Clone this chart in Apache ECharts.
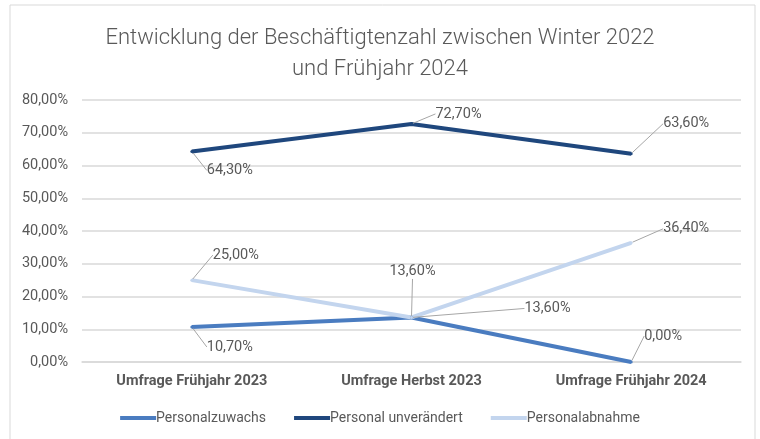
<!DOCTYPE html>
<html>
<head>
<meta charset="utf-8">
<script src="https://cdn.jsdelivr.net/npm/echarts@6/dist/echarts.min.js"></script>
<style>
  html, body { margin: 0; padding: 0; background: #fff; }
  #chart1 { width: 760px; height: 439px; }
</style>
</head>
<body>
<div id="chart1"></div>
<script>
// Daten
var categories = ['Umfrage Frühjahr 2023', 'Umfrage Herbst 2023', 'Umfrage Frühjahr 2024'];
var seriesNames = ['Personalzuwachs', 'Personal unverändert', 'Personalabnahme'];
var zuwachs = [10.7, 13.6, 0.0];
var unveraendert = [64.3, 72.7, 63.6];
var abnahme = [25.0, 13.6, 36.4];
var yTicks = [0, 10, 20, 30, 40, 50, 60, 70, 80];

var colors = ['#4a7cc0', '#1f477d', '#c3d5ee'];
// Verschiebung der Datenbeschriftungen (dx, dy) je Serie / Punkt
var labelShift = [
    [[38, 34], [136, 5], [32, -12]],
    [[38, 33], [47, 4], [55, -16]],
    [[44, -11], [1, -32], [55, 0]]
];

var fontFamily = 'Roboto, "Liberation Sans", sans-serif';

function pct(v) {
    return v.toFixed(2).replace('.', ',') + '%';
}

var myChart1 = echarts.init(document.getElementById('chart1'));

function makeSeries(name, data, color) {
    return {
        name: name,
        type: 'line',
        data: data,
        color: color,
        symbol: 'circle',
        symbolSize: 3,
        lineStyle: { width: 4, color: color },
        itemStyle: { color: color },
        label: {
            show: true,
            position: 'top',
            fontFamily: fontFamily,
            fontSize: 14.5,
            color: '#595959',
            formatter: function (p) { return pct(p.value); }
        },
        labelLine: {
            show: true,
            lineStyle: { color: '#a6a6a6', width: 1 }
        },
        emphasis: { disabled: true }
    };
}

var option = {
    animation: false,
    textStyle: { fontFamily: fontFamily },
    graphic: [{
        type: 'rect',
        shape: { x: 10, y: 5, width: 745, height: 440 },
        style: { fill: 'none', stroke: '#d9d9d9', lineWidth: 1 },
        silent: true
    }],
    title: {
        text: 'Entwicklung der Beschäftigtenzahl zwischen Winter 2022\nund Frühjahr 2024',
        left: 'center',
        top: 18,
        textStyle: {
            fontFamily: fontFamily,
            fontWeight: 300,
            fontSize: 22,
            lineHeight: 31,
            color: '#595959'
        }
    },
    legend: {
        data: seriesNames,
        bottom: 9,
        left: 'center',
        icon: 'rect',
        itemWidth: 36,
        itemHeight: 4,
        itemGap: 28,
        textStyle: { fontSize: 14, color: '#595959', padding: [0, 0, 0, -5] }
    },
    grid: {
        left: 82,
        right: 19,
        top: 100,
        bottom: 77
    },
    xAxis: {
        type: 'category',
        data: categories,
        axisLine: { lineStyle: { color: '#d9d9d9', width: 1.5 } },
        axisTick: { show: false },
        axisLabel: {
            fontSize: 14.5,
            fontWeight: 'bold',
            color: '#595959',
            margin: 12
        }
    },
    yAxis: {
        type: 'value',
        min: yTicks[0],
        max: yTicks[yTicks.length - 1],
        interval: 10,
        axisLine: { show: false },
        axisTick: { show: false },
        splitLine: { lineStyle: { color: '#d9d9d9', width: 1.5 } },
        axisLabel: {
            fontSize: 14.5,
            color: '#595959',
            margin: 14,
            formatter: function (v) { return pct(v); }
        }
    },
    labelLayout: function (params) {
        var s = labelShift[params.seriesIndex][params.dataIndex];
        return { dx: s[0], dy: s[1] };
    },
    series: [
        makeSeries(seriesNames[0], zuwachs, colors[0]),
        makeSeries(seriesNames[1], unveraendert, colors[1]),
        makeSeries(seriesNames[2], abnahme, colors[2])
    ]
};

myChart1.setOption(option);
window.addEventListener('resize', function () {
    myChart1.resize();
});
</script>
</body>
</html>
